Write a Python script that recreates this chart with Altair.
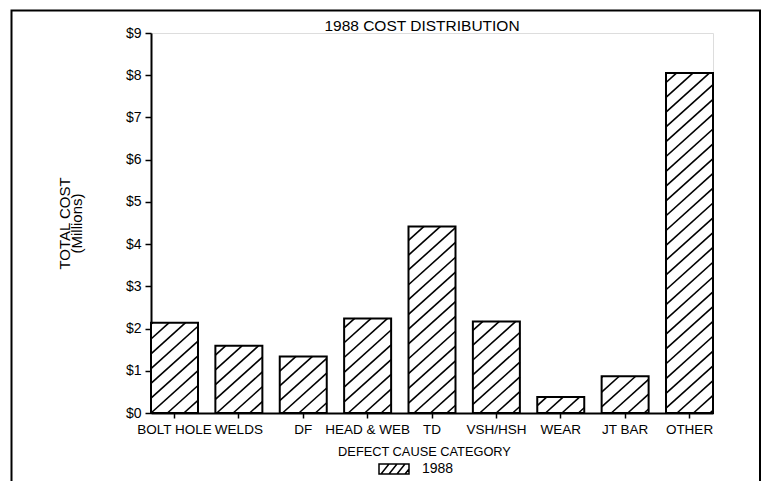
import math
import altair as alt
import pandas as pd

# ---- data ----
categories = ["BOLT HOLE", "WELDS", "DF", "HEAD & WEB", "TD", "VSH/HSH", "WEAR", "JT BAR", "OTHER"]
costs = [2.14, 1.59, 1.34, 2.24, 4.42, 2.17, 0.38, 0.87, 8.05]   # $ millions
series_name = "1988"
y_ticks = [0, 1, 2, 3, 4, 5, 6, 7, 8, 9]

# ---- layout constants ----
W, H = 562, 380
PAD_INNER = 0.27
YMAX = 9
FONT = "Liberation Sans, Arial, sans-serif"

n = len(categories)
step_units = n - PAD_INNER
px_x = W / step_units
px_y = H / YMAX

# ---- hatch segments derived from the bars (clipped to each bar) ----
theta = math.radians(42)
m = math.tan(theta)
perp = 11.0
vs = perp / math.cos(theta)
hrows = []
for i, (c, v) in enumerate(zip(categories, costs)):
    x0 = i * px_x
    x1 = x0 + (1 - PAD_INNER) * px_x
    h = v * px_y
    umin, umax = -m * x1, h - m * x0
    for k in range(math.ceil(umin / vs), math.floor(umax / vs) + 1):
        u = k * vs
        xa = max(x0, -u / m)
        xb = min(x1, (h - u) / m)
        if xb - xa > 0.8:
            hrows.append({"category": c,
                          "hx": xa / px_x, "hx2": xb / px_x,
                          "hy": (m * xa + u) / px_y, "hy2": (m * xb + u) / px_y})
hdf = pd.DataFrame(hrows)

df = pd.DataFrame({"category": categories, "cost": costs, "series": [series_name] * n})

yscale = alt.Scale(domain=[0, YMAX], nice=False, zero=True)
yaxis = alt.Axis(
    values=y_ticks, labelExpr="'$' + datum.value", grid=False,
    title=["TOTAL COST", "(Millions)"], titleFont=FONT, titleFontSize=15,
    titleFontWeight="normal", titleColor="black", titlePadding=41, titleLineHeight=12,
    labelFont=FONT, labelFontSize=14, labelColor="black", labelPadding=4,
    tickSize=6, tickColor="black", tickWidth=1.5, domainColor="black", domainWidth=2,
)

legend_path = ("M-1.5,-0.5H1.5V0.5H-1.5Z "
               "M-1.3,0.5L-0.5,-0.5 M-0.5,0.5L0.3,-0.5 M0.3,0.5L1.1,-0.5 M1.1,0.5L1.5,0")

bars = alt.Chart(df).mark_bar(stroke="black", strokeWidth=2).encode(
    x=alt.X("category:N", sort=categories,
            scale=alt.Scale(paddingInner=PAD_INNER, paddingOuter=0),
            axis=alt.Axis(title="DEFECT CAUSE CATEGORY", labelAngle=0,
                          labelFont=FONT, labelFontSize=13.5, labelColor="black",
                          labelPadding=4, tickSize=5, tickColor="black", tickWidth=1.5,
                          domainColor="black", domainWidth=2,
                          titleFont=FONT, titleFontSize=12.8, titleFontWeight="normal",
                          titleColor="black", titleAnchor="start", titleAlign="center",
                          titleX=273, titleY=42, titleBaseline="alphabetic")),
    y=alt.Y("cost:Q", scale=yscale, axis=yaxis),
    fill=alt.Fill("series:N", scale=alt.Scale(range=["white"]),
                  legend=alt.Legend(orient="none", legendX=232, legendY=425, title=None,
                                    symbolType=legend_path, symbolSize=400,
                                    symbolStrokeColor="black", symbolStrokeWidth=1.5,
                                    labelFont=FONT, labelFontSize=14, labelColor="black",
                                    labelOffset=17)),
)

hatch = alt.Chart(hdf).mark_rule(color="black", strokeWidth=1.6).encode(
    x=alt.X("hx:Q", scale=alt.Scale(domain=[0, step_units], nice=False, zero=False), axis=None),
    x2="hx2:Q",
    y=alt.Y("hy:Q", scale=yscale, axis=yaxis),
    y2="hy2:Q",
)

frame = alt.Chart(pd.DataFrame({"f": [0]})).mark_rect(
    fillOpacity=0, stroke="black", strokeWidth=2
).encode(
    x=alt.value(-139.5), x2=alt.value(609), y=alt.value(-22.5), y2=alt.value(480)
)

chart = alt.layer(bars, hatch, frame).resolve_scale(x="independent").properties(
    width=W, height=H,
    title=alt.TitleParams("1988 COST DISTRIBUTION", font=FONT, fontSize=15.5,
                          fontWeight="normal", color="black", dx=-10, dy=36.5,
                          offset=0, baseline="alphabetic"),
    padding={"left": 143, "top": 25, "right": 48, "bottom": 68},
    autosize=alt.AutoSizeParams(type="none"),
).configure_view(stroke="black", strokeWidth=1.5).configure(background="white")

chart.save("out.html", embed_options={"renderer": "svg", "actions": False})
